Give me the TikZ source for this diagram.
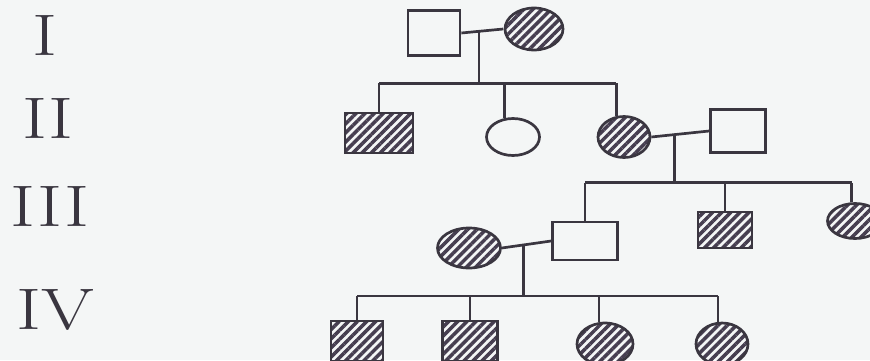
\documentclass[tikz,border=0pt]{standalone}
\usepackage{fontspec}
\usetikzlibrary{shapes.geometric,patterns.meta,calc}
\definecolor{pen}{RGB}{58,54,64}
\definecolor{hatch}{RGB}{70,62,80}
\definecolor{paper}{RGB}{244,246,246}

\begin{document}
\begin{tikzpicture}[x=0.03cm, y=-0.03cm, line width=2.3pt, color=pen,
  person/.style={draw=pen, inner sep=0pt},
  male/.style={person, rectangle},
  female/.style={person, ellipse},
  ill/.style={pattern={Lines[angle=45, distance=5.5pt, line width=3pt]}, pattern color=hatch},
  sz/.style 2 args={minimum width=#1*0.03cm, minimum height=#2*0.03cm},
  gen/.style={font=\fontsize{50}{50}\selectfont, xscale=1.3, inner sep=0pt}]
  % paper and frame
  \fill[paper] (0,0) rectangle (870,360);
  \clip (0,0) rectangle (870,360);

  % ==================== generation labels ====================
  \node[gen] (gI)   at (45,35)  {I};
  \node[gen] (gII)  at (48,118) {II};
  \node[gen] (gIII) at (50,206) {III};
  \node[gen] (gIV)  at (55,310) {IV};

  % ==================== generation I ====================
  \node[male, sz={52}{45}]            (I1) at (434,33) {};
  \node[female, ill, sz={58}{42}]     (I2) at (534,29) {};
  \draw (I1.east) -- (I2.west);
  \coordinate (d1) at ($(I1.east)!0.42!(I2.west)$);
  \coordinate (sib2) at ($(d1)+(0,52)$);
  \draw (d1) -- (sib2);

  % ==================== generation II ====================
  \node[male, ill, sz={68}{40}]       (II1) at (379,133) {};
  \node[female, sz={53}{37}]          (II2) at (513,137) {};
  \node[female, ill, sz={52}{41}]     (II3) at (624,137) {};
  \node[male, sz={55}{43}]            (II4) at (738,131) {};
  % sibship line and drops
  \draw (II1.north |- sib2) -- (II3.110 |- sib2);
  \draw (II1.north) -- (II1.north |- sib2);
  \draw (II2.115) -- (II2.115 |- sib2);
  \draw (II3.110) -- (II3.110 |- sib2);
  % mating line and descent
  \draw (II3.east) -- (II4.west);
  \coordinate (d2) at ($(II3.east)!0.4!(II4.west)$);
  \coordinate (sib3) at ($(d2)+(0,48)$);
  \draw (d2) -- (sib3);

  % ==================== generation III ====================
  \node[female, ill, sz={63}{40}]     (III1) at (469,248) {};
  \node[male, sz={65}{38}]            (III2) at (585,241) {};
  \node[male, ill, sz={54}{36}]       (III3) at (725,230) {};
  \node[female, ill, sz={55}{35}]     (III4) at (855,221) {};
  \draw (III2.north |- sib3) -- (III4.100 |- sib3);
  \draw (III2.north) -- (III2.north |- sib3);
  \draw (III3.north) -- (III3.north |- sib3);
  \draw (III4.100) -- (III4.100 |- sib3);
  % mating line and descent
  \draw (III1.east) -- (III2.west);
  \coordinate (d3) at ($(III1.east)!0.44!(III2.west)$);
  \coordinate (sib4) at ($(d3)+(0,51)$);
  \draw (d3) -- (sib4);

  % ==================== generation IV ====================
  \node[male, ill, sz={52}{40}]       (IV1) at (357,341) {};
  \node[male, ill, sz={55}{40}]       (IV2) at (470,341) {};
  \node[female, ill, sz={56}{42}]     (IV3) at (605,344) {};
  \node[female, ill, sz={52}{42}]     (IV4) at (722,344) {};
  \draw (IV1.north |- sib4) -- (IV4.100 |- sib4);
  \draw (IV1.north) -- (IV1.north |- sib4);
  \draw (IV2.north) -- (IV2.north |- sib4);
  \draw (IV3.105) -- (IV3.105 |- sib4);
  \draw (IV4.100) -- (IV4.100 |- sib4);
\end{tikzpicture}
\end{document}
